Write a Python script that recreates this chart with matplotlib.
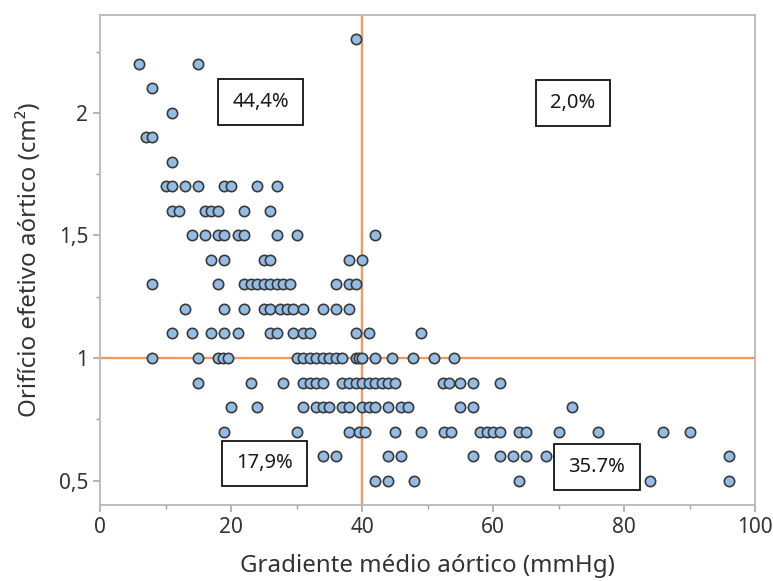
import matplotlib
matplotlib.use("Agg")
import matplotlib.pyplot as plt
from matplotlib.ticker import MultipleLocator, FixedLocator, FuncFormatter

plt.rcParams['font.family'] = ['Noto Sans', 'DejaVu Sans']

# Orifício efetivo aórtico levels (cm²) and the gradients (mmHg) observed at each level
area_levels = [2.3, 2.2, 2.1, 2.0, 1.9, 1.8, 1.7, 1.6, 1.5, 1.4, 1.3, 1.2, 1.1, 1.0, 0.9, 0.8, 0.7, 0.6, 0.5]
grad_23 = [39]
grad_22 = [6, 15]
grad_21 = [8]
grad_20 = [11]
grad_19 = [7, 8]
grad_18 = [11]
grad_17 = [10, 11, 13, 15, 19, 20, 24, 27]
grad_16 = [11, 12, 16, 17, 18, 22, 26]
grad_15 = [14, 16, 18, 19, 21, 22, 27, 30, 42]
grad_14 = [17, 19, 25, 26, 38, 40]
grad_13 = [8, 18, 22, 23, 24, 25, 26, 27, 28, 29, 36, 38, 39]
grad_12 = [13, 19, 22, 25, 26, 27.5, 28.5, 29.5, 31, 34, 36, 38]
grad_11 = [11, 14, 17, 19, 21, 26, 27, 29.5, 31, 32, 39, 41, 49]
grad_10 = [8, 15, 18, 18.8, 19.5, 30, 31, 32, 33, 34, 35, 36, 37, 39, 39.5, 40, 42, 44.5, 47.8, 51, 54]
grad_09 = [15, 23, 28, 31, 32, 33, 34, 37, 38, 39, 40, 41, 42, 43, 44, 45, 52.3, 53.3, 55, 57, 61]
grad_08 = [20, 24, 31, 33, 34, 35, 37, 38, 40, 41, 42, 44, 46, 47, 55, 57, 72]
grad_07 = [19, 30, 38, 39.5, 40.5, 45, 49, 52.5, 53.5, 58, 59, 60, 61, 64, 65, 70, 76, 86, 90]
grad_06 = [34, 36, 44, 46, 57, 61, 63, 65, 68, 70, 96]
grad_05 = [42, 44, 48, 64, 84, 96]
grad_rows = [grad_23, grad_22, grad_21, grad_20, grad_19, grad_18, grad_17, grad_16, grad_15,
             grad_14, grad_13, grad_12, grad_11, grad_10, grad_09, grad_08, grad_07, grad_06, grad_05]

quadrant_labels = ["44,4%", "2,0%", "17,9%", "35.7%"]
quadrant_pos = [(24.5, 2.045), (72.2, 2.04), (25.1, 0.57), (75.8, 0.555)]

grad_cut = 40
area_cut = 1.0

xs, ys = [], []
for lvl, row in zip(area_levels, grad_rows):
    for g in row:
        xs.append(g)
        ys.append(lvl)

fig = plt.figure(figsize=(7.73, 5.81), dpi=100)
ax = fig.add_axes([0.1294, 0.1308, 0.8475, 0.8434])

ax.axvline(grad_cut, color='#f29a62', lw=1.7, zorder=1)
ax.axhline(area_cut, color='#f29a62', lw=1.7, zorder=1)

ax.scatter(xs, ys, s=55, facecolor='#94bde6', edgecolor='#3a3a3a', linewidths=1.2, zorder=3)

for lab, (px, py) in zip(quadrant_labels, quadrant_pos):
    ax.text(px, py, lab, ha='center', va='center', fontsize=14.5, color='#1a1a1a', zorder=4,
            bbox=dict(boxstyle='square,pad=0.72', mutation_aspect=0.88,
                      facecolor='white', edgecolor='#111111', linewidth=1.3))

ax.set_xlim(0, 100)
ax.set_ylim(0.4, 2.4)
ax.xaxis.set_major_locator(MultipleLocator(20))
ax.xaxis.set_minor_locator(MultipleLocator(10))
ax.yaxis.set_major_locator(FixedLocator([0.5, 1.0, 1.5, 2.0]))
ax.yaxis.set_minor_locator(FixedLocator([0.75, 1.25, 1.75, 2.25]))

def yfmt(v, pos):
    return ('%g' % v).replace('.', ',')
ax.yaxis.set_major_formatter(FuncFormatter(yfmt))

for sp in ax.spines.values():
    sp.set_color('#b8b8b8')
    sp.set_linewidth(1.3)
ax.tick_params(which='major', length=5, width=1.1, color='#a0a0a0', labelsize=15, labelcolor='#333333')
ax.tick_params(which='minor', length=3, width=1.0, color='#a0a0a0')

ax.set_xlabel('Gradiente médio aórtico (mmHg)', fontsize=17.3, color='#333333', labelpad=12)
ax.set_ylabel('Orifício efetivo aórtico (cm²)', fontsize=17.3, color='#333333', labelpad=12)

fig.savefig('out.png', dpi=100)
